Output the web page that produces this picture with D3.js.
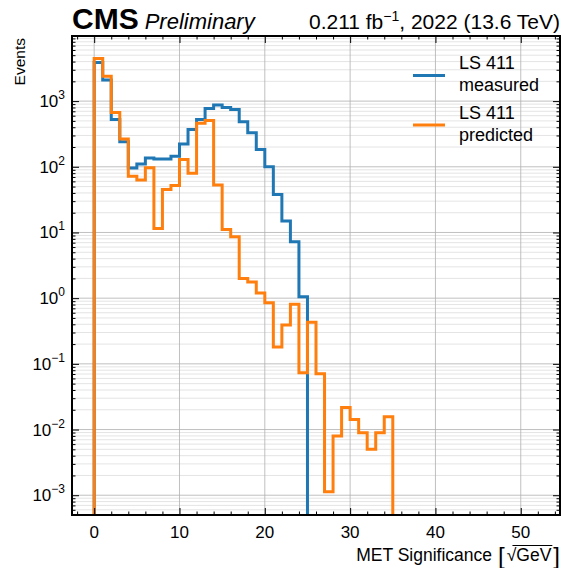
<!DOCTYPE html>
<html><head><meta charset="utf-8">
<script src="https://cdn.jsdelivr.net/npm/d3@7"></script>
<style>body{margin:0;background:#fff}svg{display:block;font-family:"Liberation Sans",Arial,Helvetica,sans-serif}</style>
</head><body>
<svg id="chart" width="564" height="568"></svg>
<script>
// ---- data ----
const binEdges = d3.range(0, 36);            // MET significance bin edges, width 1
const measured = [3880, 2090, 526, 240, 96, 110, 136, 131, 131, 145, 222, 371, 526, 774, 869, 802, 748, 484, 329, 184, 100, 38, 15, 7.2, 1.05];
const predicted = [4470, 2400, 673, 264, 72, 63, 97, 11.5, 45, 52, 129, 80, 462, 505, 53, 11.1, 8.6, 2.0, 1.77, 1.2, 0.85, 0.18, 0.39, 0.81, 0.073, 0.43, 0.071, 0.00113, 0.0080, 0.0216, 0.0142, 0.0089, 0.0050, 0.0089, 0.0156];
const seriesNames = ["LS 411\nmeasured", "LS 411\npredicted"];
const seriesColors = ["#1f77b4", "#ff7f0e"];
const xTicks = [0, 10, 20, 30, 40, 50];
const xMinorTicks = d3.range(-2, 55, 2);
const yTickExps = [-3, -2, -1, 0, 1, 2, 3];
const xDomain = [-2.6, 54.6];
const yDomain = [5e-4, 9.8e3];

// ---- layout ----
const W = 564, H = 568;
const m = {l: 72, t: 36, r: 4, b: 53};
const iw = W - m.l - m.r, ih = H - m.t - m.b;
const svg = d3.select("#chart");
const g = svg.append("g").attr("transform", `translate(${m.l},${m.t})`);

const x = d3.scaleLinear().domain(xDomain).range([0, iw]);
const y = d3.scaleLog().domain(yDomain).range([ih, 0]);

const yMinor = [];
for (let e = -4; e <= 4; e++) for (let k = 2; k <= 9; k++) {
  const v = k * Math.pow(10, e);
  if (v >= yDomain[0] && v <= yDomain[1]) yMinor.push(v);
}
const yMajorAll = [];
for (let e = -4; e <= 4; e++) { const v = Math.pow(10, e); if (v >= yDomain[0] && v <= yDomain[1]) yMajorAll.push(v); }

// grid
g.append("g").selectAll("line").data(yMinor).join("line")
  .attr("x1", 0).attr("x2", iw).attr("y1", d => y(d)).attr("y2", d => y(d))
  .attr("stroke", "#dddddd").attr("stroke-width", 0.8);
g.append("g").selectAll("line").data(yMajorAll).join("line")
  .attr("x1", 0).attr("x2", iw).attr("y1", d => y(d)).attr("y2", d => y(d))
  .attr("stroke", "#b0b0b0").attr("stroke-width", 0.8);
g.append("g").selectAll("line").data(xTicks).join("line")
  .attr("y1", 0).attr("y2", ih).attr("x1", d => x(d)).attr("x2", d => x(d))
  .attr("stroke", "#b0b0b0").attr("stroke-width", 0.8);

// clip
svg.append("defs").append("clipPath").attr("id", "clip")
  .append("rect").attr("width", iw).attr("height", ih);

// histograms
function stepPath(vals) {
  const bottom = ih + 20;
  const pts = [[x(binEdges[0]), bottom]];
  vals.forEach((v, i) => {
    pts.push([x(binEdges[i]), y(v)]);
    pts.push([x(binEdges[i + 1]), y(v)]);
  });
  pts.push([x(binEdges[vals.length]), bottom]);
  return d3.line()(pts);
}
const hg = g.append("g").attr("clip-path", "url(#clip)");
[measured, predicted].forEach((vals, i) => {
  hg.append("path").attr("d", stepPath(vals)).attr("fill", "none")
    .attr("stroke", seriesColors[i]).attr("stroke-width", 3).attr("stroke-linejoin", "miter");
});

// axes (ticks inward)
function styleAxis(sel) { sel.select(".domain").remove(); sel.selectAll("line").attr("stroke", "#000").attr("stroke-width", 1); }
const minorX = xMinorTicks.filter(d => !xTicks.includes(d) && d >= xDomain[0] && d <= xDomain[1]);
g.append("g").attr("transform", `translate(0,${ih})`).call(d3.axisBottom(x).tickValues(xTicks).tickSize(-7).tickFormat("")).call(styleAxis);
g.append("g").attr("transform", `translate(0,${ih})`).call(d3.axisBottom(x).tickValues(minorX).tickSize(-3.5).tickFormat("")).call(styleAxis);
g.append("g").call(d3.axisTop(x).tickValues(xTicks).tickSize(-7).tickFormat("")).call(styleAxis);
g.append("g").call(d3.axisTop(x).tickValues(minorX).tickSize(-3.5).tickFormat("")).call(styleAxis);
g.append("g").call(d3.axisLeft(y).tickValues(yMajorAll).tickSize(-7).tickFormat("")).call(styleAxis);
g.append("g").call(d3.axisLeft(y).tickValues(yMinor).tickSize(-3.5).tickFormat("")).call(styleAxis);
g.append("g").attr("transform", `translate(${iw},0)`).call(d3.axisRight(y).tickValues(yMajorAll).tickSize(-7).tickFormat("")).call(styleAxis);
g.append("g").attr("transform", `translate(${iw},0)`).call(d3.axisRight(y).tickValues(yMinor).tickSize(-3.5).tickFormat("")).call(styleAxis);

// x tick labels
g.append("g").selectAll("text").data(xTicks).join("text")
  .attr("x", d => x(d)).attr("y", ih + 23).attr("text-anchor", "middle")
  .attr("font-size", 17).attr("fill", "#000").text(d => d);

// y tick labels 10^e
const yl = g.append("g").selectAll("text").data(yTickExps).join("text")
  .attr("x", -7).attr("y", d => y(Math.pow(10, d)) + 6).attr("text-anchor", "end")
  .attr("font-size", 17).attr("fill", "#000");
yl.append("tspan").text("10");
yl.append("tspan").attr("dy", -8).attr("font-size", 12).text(d => d < 0 ? "\u2212" + (-d) : d);

// frame
g.append("rect").attr("width", iw).attr("height", ih).attr("fill", "none").attr("stroke", "#000").attr("stroke-width", 2);

// y label
svg.append("text").attr("transform", `translate(25,38) rotate(-90)`).attr("text-anchor", "end")
  .attr("font-size", 15.5).text("Events");

// x label
const xl = svg.append("g");
let cx = 0;
function piece(str, size) {
  const t = xl.append("text").attr("x", cx).attr("y", 0).attr("font-size", size).text(str);
  const w = t.node().getComputedTextLength();
  const r = {t, w, x: cx};
  cx += w;
  return r;
}
piece("MET Significance", 17.5); cx += 6;
const lb = piece("[", 24); lb.t.attr("y", 3).attr("font-weight", 300); cx += 2;
const sq = piece("\u221A", 17.5);
const gv = piece("GeV", 17.5);
xl.append("line").attr("x1", sq.x + sq.w * 0.6).attr("x2", gv.x + gv.w + 1)
  .attr("y1", -15.5).attr("y2", -15.5).attr("stroke", "#000").attr("stroke-width", 1);
cx += 2;
const rb = piece("]", 24); rb.t.attr("y", 3).attr("font-weight", 300);
xl.attr("transform", `translate(${W - m.r - cx},561)`);

// title
const tl = svg.append("text").attr("x", m.l).attr("y", 29);
tl.append("tspan").attr("font-size", 30).attr("font-weight", "bold").text("CMS");
tl.append("tspan").attr("font-size", 22).attr("font-style", "italic").attr("dx", 6).text("Preliminary");
const tr = svg.append("text").attr("x", W - m.r).attr("y", 29).attr("text-anchor", "end").attr("font-size", 21);
tr.append("tspan").text("0.211 fb");
tr.append("tspan").attr("dy", -8).attr("font-size", 14).text("\u22121");
tr.append("tspan").attr("dy", 8).text(", 2022 (13.6 TeV)");

// legend
const lg = svg.append("g");
const legY = [75.5, 125];
seriesNames.forEach((name, i) => {
  lg.append("line").attr("x1", 413).attr("x2", 445).attr("y1", legY[i]).attr("y2", legY[i])
    .attr("stroke", seriesColors[i]).attr("stroke-width", 3);
  const lines = name.split("\n");
  lines.forEach((ln, j) => {
    lg.append("text").attr("x", 459).attr("y", legY[i] - 6.5 + j * 22).attr("font-size", 18).text(ln);
  });
});
</script>
</body></html>
